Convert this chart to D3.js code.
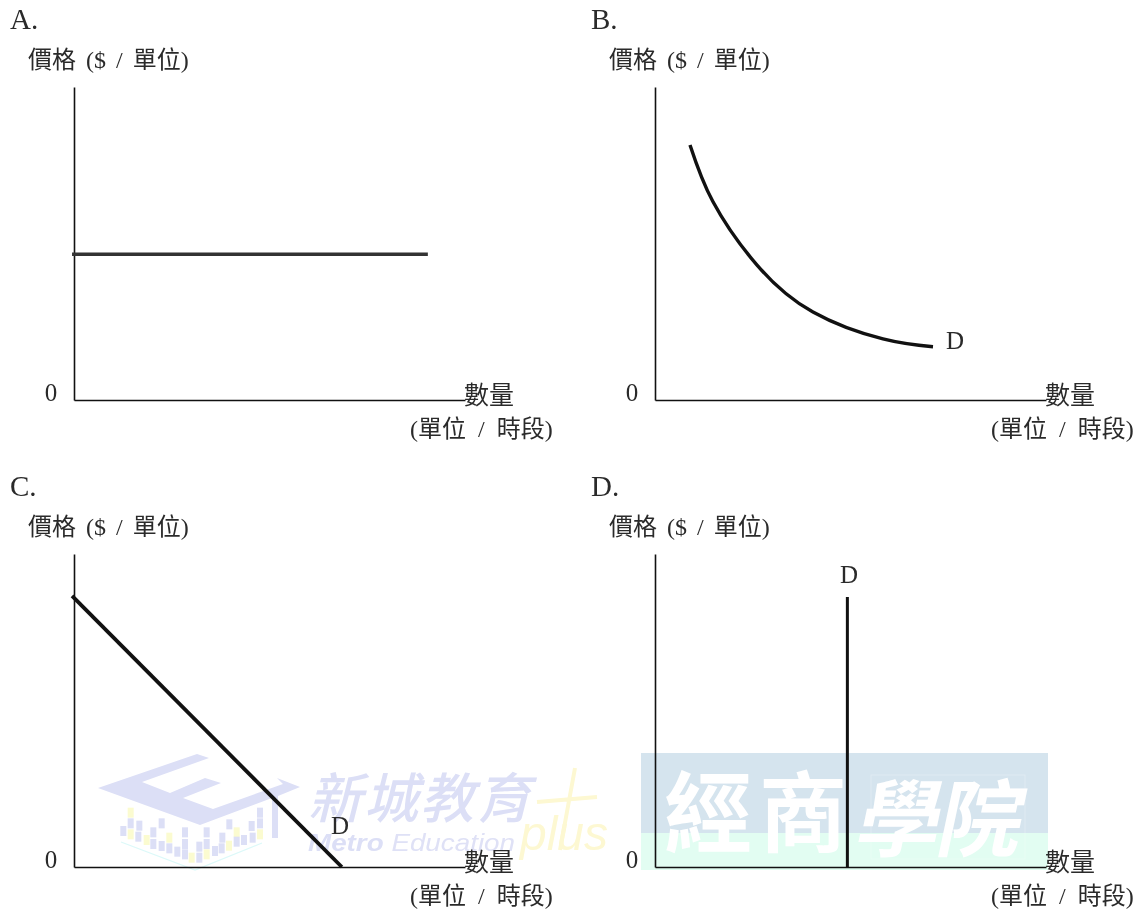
<!DOCTYPE html>
<html><head><meta charset="utf-8">
<style>html,body{margin:0;padding:0;background:#fff}svg{display:block;filter:blur(.5px)}
text{font-family:"Liberation Serif","Noto Sans CJK TC",serif;fill:#2a2a2a}</style>
<script src="https://cdn.jsdelivr.net/npm/d3@7/dist/d3.min.js"></script></head><body>
<svg id="c" width="1140" height="911"></svg>
<script>
// Data (axis units, 0-100 on both axes)
const panelNames = ["A.","B.","C.","D."];
const yAxisLabel = "價格 ($ / 單位)";
const xAxisLabel = "數量";
const xAxisUnit = "(單位 / 時段)";
const zeroLabel = "0";
const curveLabel = "D";
const lineA = [[-0.5,46.6],[90.5,46.6]];
const curveB = [[8.95,81.5],[14.8,63.4],[26.1,43.1],[40.4,28.1],[58.3,19.5],[71.1,17]];
const lineC = [[-0.5,86.6],[68.5,0]];
const lineD = [[49.2,86.3],[49.2,0]];
const wmCn1 = "新城教育", wmEnBold = "Metro", wmEnLight = " Education", wmPlus = "plus", wmCn2 = ["經","商","學","院"];

const svg = d3.select("#c");
const x = d3.scaleLinear().domain([0,100]).range([0,391]);
const y = d3.scaleLinear().domain([0,100]).range([313,0]);
const line = d3.line().x(d=>x(d[0])).y(d=>y(d[1]));

// Watermarks
const wm = svg.append("g");
wm.append("rect").attr("x",641).attr("y",753).attr("width",407).attr("height",80).attr("fill","#d5e4ee");
wm.append("rect").attr("x",641).attr("y",833).attr("width",407).attr("height",37).attr("fill","#e2fdf2");
wm.append("rect").attr("x",871).attr("y",775).attr("width",154).attr("height",84).attr("fill","none").attr("stroke","#fff").attr("stroke-opacity",.25);
wm.selectAll(".cn2").data(wmCn2).join("text")
  .attr("x",(d,i)=>[708,803,895,976][i]).attr("y",(d,i)=>i<2?845:850)
  .attr("text-anchor","middle").attr("font-size",(d,i)=>i<2?88:84)
  .attr("transform",(d,i)=>i<2?null:`translate(${0.2126*850},0) skewX(-12)`)
  .style("fill","#fff").style("font-family","'Noto Sans CJK TC'").style("font-weight",700).text(d=>d);

const roof = "M98,788 L197,754 L209,758 L142,782 L170,793 L205,778 L221,783 L183,798 L213,809 L283,784 L277,778 L300,787 L278,796 L278,838 L272,838 L272,798 L200,825 Z";
wm.append("path").attr("d",roof).attr("fill","#dcdff6");
wm.append("path").attr("d","M121,842 L195,870 L262,843").attr("fill","none").attr("stroke","#dcf9f9").attr("stroke-width",1.2);
const winYellow = [[122,203],[122,268],[170,285],[238,278],[305,338],[350,328],[417,302],[440,262],[510,268]];
const winBlue = [[122,235],[148,242],[100,258],[145,275],[190,262],[215,235],[190,297],[215,303],[238,310],[262,320],[285,262],[285,297],[285,328],[328,338],[328,305],[350,262],[350,297],[375,318],[397,278],[395,310],[418,238],[440,290],[462,285],[485,243],[510,235],[510,203],[488,278]];
const drawWin = (arr,col)=>wm.selectAll(null).data(arr).join("rect")
  .attr("x",d=>90+d[0]/3-3).attr("y",d=>745+d[1]/3-5).attr("width",6).attr("height",10).attr("fill",col);
drawWin(winYellow,"#fbfbd0"); drawWin(winBlue,"#dcdff6");
wm.append("text").attr("x",308).attr("y",818).attr("font-size",54).attr("font-style","italic").attr("font-weight",500)
  .style("fill","#dcdff6").style("font-family","'Noto Sans CJK TC'").attr("textLength",222).text(wmCn1);
const en = wm.append("text").attr("x",308).attr("y",851).attr("font-size",24).attr("font-style","italic")
  .attr("textLength",207).attr("lengthAdjust","spacingAndGlyphs")
  .style("fill","#dfe1f6").style("font-family","'Liberation Sans'");
en.append("tspan").attr("font-weight",700).style("fill","#dcdff6").text(wmEnBold);
en.append("tspan").text(wmEnLight);
wm.append("text").attr("x",520).attr("y",850).attr("font-size",48).attr("font-style","italic")
  .style("fill","#fdf8d2").style("font-family","'Liberation Sans'").text(wmPlus);
wm.append("path").attr("d","M575,768 L560,850 M537,802 L597,797").attr("stroke","#fdf8d2").attr("stroke-width",4).attr("fill","none");

// Panels
const origins = [[74,400],[655,400],[74,867],[655,867]];
const series = [lineA,curveB,lineC,lineD];
const curves = [d3.curveLinear,d3.curveNatural,d3.curveLinear,d3.curveLinear];
const labelPos = [null,[955,341],[340,826],[849,575]];
const widths = [3.5,3.4,3.8,3];
const strokeCol = ["#333","#111","#111","#111"];
panelNames.forEach((name,i)=>{
  const [ox,oy] = origins[i];
  const g = svg.append("g").attr("transform",`translate(${ox},${oy-313})`);
  g.append("g").call(d3.axisLeft(y).tickValues([]).tickSize(0)).select("path").attr("stroke","#111").attr("stroke-width",1.6);
  const xa = g.append("g").attr("transform",`translate(0,${y(0)})`).call(d3.axisBottom(x).tickValues([]).tickSize(0));
  xa.select("path").attr("stroke","#111").attr("stroke-width",1.6);
  g.append("path").attr("d",line.curve(curves[i])(series[i])).attr("fill","none").attr("stroke",strokeCol[i]).attr("stroke-width",widths[i]);
  svg.append("text").attr("x",ox-64).attr("y",oy-371).attr("font-size",29).text(name);
  svg.append("text").attr("x",ox-46).attr("y",oy-332).attr("font-size",24).attr("word-spacing",4).text(yAxisLabel);
  svg.append("text").attr("x",ox-23).attr("text-anchor","middle").attr("y",oy+1).attr("font-size",25).text(zeroLabel);
  svg.append("text").attr("x",ox+390).attr("y",oy+4).attr("font-size",25).text(xAxisLabel);
  svg.append("text").attr("x",ox+336).attr("y",oy+37).attr("font-size",24).attr("word-spacing",6).text(xAxisUnit);
  if(labelPos[i]) svg.append("text").attr("x",labelPos[i][0]).attr("y",labelPos[i][1]+8).attr("text-anchor","middle").attr("font-size",25).text(curveLabel);
});
</script></body></html>
